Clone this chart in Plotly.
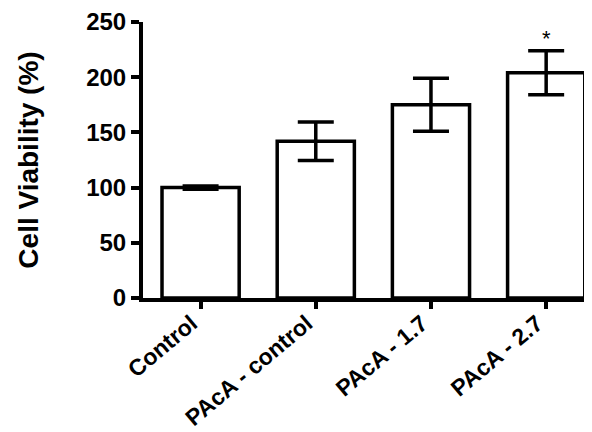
import plotly.graph_objects as go

categories = ["Control", "PAcA - control", "PAcA - 1.7", "PAcA - 2.7"]
viability = [100, 142, 175, 204]
sem = [1.5, 17.5, 24, 20]
significance = ["", "", "", "*"]
y_ticks = [0, 50, 100, 150, 200, 250]

fig = go.Figure()
fig.add_trace(go.Bar(
    x=categories, y=viability,
    width=0.67,
    marker=dict(color="white", line=dict(color="black", width=3.5)),
    error_y=dict(type="data", array=sem, visible=True, color="black", thickness=3.5, width=18),
    showlegend=False,
))

for c, v, e, s in zip(categories, viability, sem, significance):
    if s:
        fig.add_annotation(x=c, y=v + e, text=s, showarrow=False, yshift=12,
                           font=dict(size=22, color="black", family="Liberation Sans"))

fig.update_layout(
    width=592, height=432,
    margin=dict(l=135, r=2, t=14, b=142),
    plot_bgcolor="white", paper_bgcolor="white",
    font=dict(family="Liberation Sans", color="black"),
)
fig.update_yaxes(
    range=[0, 250], tickvals=y_ticks, automargin=False, ticklabeloverflow="allow",
    showline=True, linecolor="black", linewidth=4,
    ticks="outside", ticklen=8, tickwidth=3.5, tickcolor="black",
    showgrid=False, zeroline=False,
    tickfont=dict(size=24, family="Liberation Sans", color="black", weight="bold"),
    title=dict(text="<b>Cell Viability (%)</b>", font=dict(size=28, family="Liberation Sans", color="black"), standoff=40),
)
fig.update_xaxes(
    range=[-0.5, 3.45], automargin=False, ticklabeloverflow="allow",
    showline=True, linecolor="black", linewidth=4,
    ticks="outside", ticklen=7, tickwidth=3.5, tickcolor="black",
    tickangle=-40, ticklabelshift=-9, ticklabelstandoff=-8,
    tickfont=dict(size=23, family="Liberation Sans", color="black", weight="bold"),
)

fig.write_html("out.html")
